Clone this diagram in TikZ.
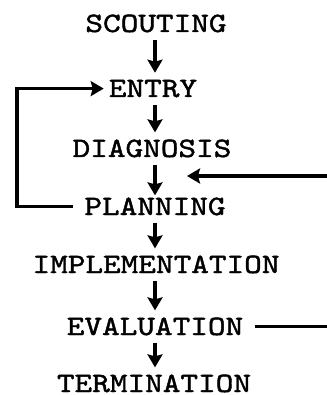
\documentclass[tikz,border=0pt]{standalone}
\usepackage{fontspec}
\newfontfamily\typewriter{lmmono10-regular.otf}[FakeStretch=1.2,FakeBold=1.5]
\usetikzlibrary{arrows.meta}
\begin{document}
\begin{tikzpicture}[x=1pt,y=-1pt,
  stage/.style={anchor=base,inner sep=0pt,
    font=\typewriter\fontsize{28}{30}\selectfont},
  flow/.style={line width=3.4pt,-{Stealth[length=13pt,width=15pt,inset=2pt]}},
  seq/.style={flow,shorten <=7pt,shorten >=7pt},
  link/.style={line width=3.4pt}]
  \useasboundingbox (0,0) rectangle (326,395);
  % vertical axis of the flow arrows and the margins of the loops
  \coordinate (axis) at (155,0);
  \coordinate (redge) at (327,0);
  \coordinate (loopx) at (17,0);
  % stages
  \node[stage] (scouting) at (156,32) {SCOUTING};
  \node[stage] (entry) at (153,97) {ENTRY};
  \node[stage] (diagnosis) at (152,157) {DIAGNOSIS};
  \node[stage] (planning) at (155,215) {PLANNING};
  \node[stage] (implementation) at (156,273) {IMPLEMENTATION};
  \node[stage] (evaluation) at (155,335) {EVALUATION};
  \node[stage] (termination) at (154,392) {TERMINATION};
  % main sequence
  \draw[seq] (scouting.south -| axis) -- (entry.north -| axis);
  \draw[seq] (entry.south -| axis) -- (diagnosis.north -| axis);
  \draw[seq,shorten >=2pt] (diagnosis.south -| axis) -- (planning.north -| axis);
  \draw[seq] (planning.south -| axis) -- (implementation.north -| axis);
  \draw[seq] (implementation.south -| axis) -- (evaluation.north -| axis);
  \draw[seq] (evaluation.south -| axis) -- (termination.north -| axis);
  % feedback loop from planning back to entry
  \draw[flow] ([xshift=-11pt]planning.west) -- (planning.west -| loopx)
    -- (entry.west -| loopx) -- ([xshift=-5pt]entry.west);
  % return path entering between diagnosis and planning
  \coordinate (rin) at (327,176);
  \coordinate (rtip) at (187,176);
  \draw[flow] (rin) -- (rtip);
  % outgoing line from evaluation
  \draw[link] ([xshift=12pt]evaluation.east) -- (evaluation.east -| redge);
\end{tikzpicture}
\end{document}
